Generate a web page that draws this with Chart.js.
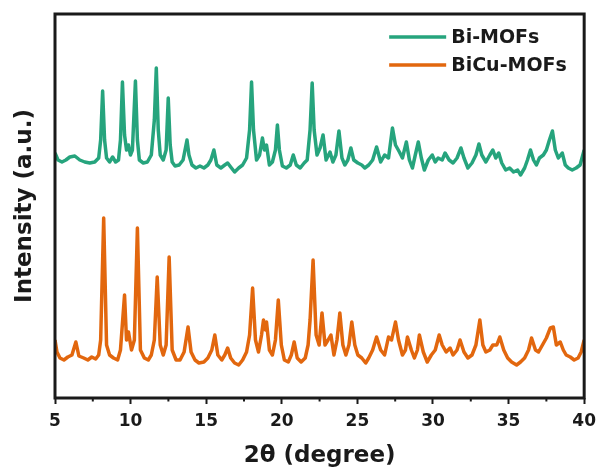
<!DOCTYPE html>
<html>
<head>
<meta charset="utf-8">
<script src="https://cdn.jsdelivr.net/npm/chart.js@4.4.1/dist/chart.umd.min.js"></script>
<style>
  html, body { margin: 0; padding: 0; background: #fff; }
  #wrap { width: 603px; height: 474px; }
</style>
</head>
<body>
<div id="wrap"><canvas id="xrdChart"></canvas></div>
<script>
// XRD patterns, 2θ in degrees, intensity in arbitrary units
const biAngles = [5.00, 5.20, 5.46, 5.72, 5.98, 6.31, 6.64, 6.97, 7.30, 7.63, 7.89, 8.02, 8.15, 8.28, 8.41,
  8.61, 8.81, 9.01, 9.20, 9.33, 9.46, 9.60, 9.73, 9.86, 9.99, 10.12, 10.32, 10.45, 10.58, 10.84, 11.11,
  11.37, 11.57, 11.70, 11.83, 11.96, 12.16, 12.35, 12.49, 12.62, 12.75, 12.94, 13.21, 13.47, 13.60, 13.73,
  13.86, 14.06, 14.32, 14.59, 14.85, 15.11, 15.31, 15.51, 15.70, 15.97, 16.23, 16.42, 16.62, 16.88, 17.15,
  17.41, 17.67, 17.87, 18.00, 18.13, 18.33, 18.53, 18.72, 18.85, 18.99, 19.18, 19.38, 19.58, 19.71, 19.84,
  20.04, 20.30, 20.56, 20.76, 20.96, 21.22, 21.48, 21.68, 21.87, 22.01, 22.14, 22.33, 22.53, 22.73, 22.93,
  23.19, 23.38, 23.58, 23.78, 23.98, 24.17, 24.37, 24.57, 24.76, 25.03, 25.29, 25.49, 25.75, 26.01, 26.27,
  26.54, 26.80, 27.06, 27.32, 27.52, 27.78, 27.98, 28.24, 28.44, 28.64, 28.83, 29.03, 29.23, 29.43, 29.69,
  29.95, 30.15, 30.34, 30.61, 30.80, 31.07, 31.33, 31.59, 31.85, 32.05, 32.31, 32.58, 32.84, 33.04, 33.23,
  33.50, 33.76, 33.96, 34.15, 34.35, 34.55, 34.81, 35.07, 35.33, 35.60, 35.79, 36.06, 36.25, 36.45, 36.65,
  36.84, 37.04, 37.30, 37.50, 37.70, 37.90, 38.09, 38.29, 38.55, 38.75, 38.95, 39.21, 39.47, 39.73, 40.00];
const biIntensity = [55, 48, 46, 48, 51, 52, 48, 46, 45, 46, 50, 68, 117, 68, 50,
  46, 51, 46, 48, 68, 126, 73, 58, 63, 53, 58, 127, 68, 48, 45, 46,
  53, 88, 140, 78, 53, 48, 58, 110, 63, 46, 42, 43, 48, 58, 68,
  53, 43, 40, 42, 40, 43, 48, 58, 43, 40, 43, 45, 41, 36, 40,
  43, 50, 78, 126, 78, 48, 53, 70, 58, 63, 43, 46, 58, 83, 58,
  42, 40, 43, 53, 43, 40, 45, 48, 78, 125, 78, 53, 60, 73, 48,
  56, 46, 53, 77, 50, 43, 48, 60, 48, 45, 43, 40, 43, 48, 61,
  46, 53, 50, 80, 63, 56, 50, 66, 48, 40, 53, 66, 50, 38, 48,
  53, 46, 50, 48, 55, 48, 45, 50, 60, 50, 40, 45, 53, 64, 53,
  46, 53, 58, 50, 55, 45, 38, 40, 36, 38, 33, 40, 48, 58, 48,
  43, 50, 53, 58, 68, 77, 58, 50, 55, 43, 40, 38, 40, 43, 58];
const biOffset = 190;

const bicuAngles = [5.00, 5.13, 5.33, 5.59, 5.85, 6.12, 6.38, 6.58, 6.90, 7.17, 7.43, 7.69, 7.89, 8.02, 8.22,
  8.41, 8.61, 8.87, 9.14, 9.33, 9.60, 9.73, 9.86, 10.06, 10.25, 10.45, 10.65, 10.91, 11.17, 11.37, 11.57,
  11.76, 11.96, 12.16, 12.35, 12.55, 12.75, 13.01, 13.27, 13.54, 13.80, 14.00, 14.26, 14.52, 14.85, 15.11,
  15.37, 15.57, 15.77, 16.03, 16.23, 16.42, 16.62, 16.88, 17.15, 17.41, 17.67, 17.87, 18.07, 18.26, 18.46,
  18.66, 18.79, 18.92, 18.99, 19.18, 19.38, 19.58, 19.77, 19.97, 20.17, 20.43, 20.63, 20.82, 21.02, 21.28,
  21.55, 21.74, 21.87, 22.07, 22.27, 22.47, 22.66, 22.86, 23.06, 23.25, 23.45, 23.65, 23.84, 24.04, 24.24,
  24.44, 24.63, 24.83, 25.03, 25.29, 25.55, 25.75, 26.01, 26.27, 26.54, 26.80, 27.06, 27.26, 27.52, 27.72,
  27.98, 28.18, 28.31, 28.57, 28.77, 28.97, 29.10, 29.36, 29.62, 29.89, 30.15, 30.41, 30.61, 30.87, 31.13,
  31.33, 31.59, 31.79, 32.05, 32.31, 32.58, 32.84, 33.10, 33.30, 33.50, 33.76, 33.96, 34.22, 34.42, 34.68,
  34.94, 35.20, 35.53, 35.79, 36.06, 36.32, 36.52, 36.78, 36.98, 37.24, 37.50, 37.76, 37.96, 38.16, 38.42,
  38.62, 38.81, 39.08, 39.34, 39.60, 39.80, 40.00];
const bicuIntensity = [58, 46, 40, 38, 41, 43, 56, 42, 40, 38, 41, 39, 43, 58, 180,
  53, 43, 40, 38, 48, 103, 58, 66, 48, 58, 170, 48, 40, 38, 43, 58,
  121, 53, 43, 53, 141, 48, 38, 38, 46, 71, 46, 38, 35, 36, 40,
  48, 63, 43, 38, 43, 50, 40, 35, 33, 38, 46, 63, 110, 58, 46,
  63, 78, 68, 76, 48, 43, 58, 98, 53, 38, 36, 43, 56, 40, 36,
  40, 53, 78, 138, 63, 53, 85, 53, 58, 63, 43, 58, 85, 53, 43,
  53, 76, 53, 43, 40, 35, 40, 48, 61, 48, 43, 61, 58, 76, 58,
  43, 48, 61, 48, 40, 48, 63, 46, 36, 43, 48, 63, 53, 46, 50,
  43, 48, 58, 46, 40, 43, 53, 78, 53, 46, 48, 53, 53, 61, 48,
  40, 36, 33, 36, 40, 48, 60, 48, 46, 53, 60, 70, 71, 53, 56,
  48, 43, 41, 38, 40, 46, 58];

const xTicks = [5, 10, 15, 20, 25, 30, 35, 40];
const xMinorTicks = [7.5, 12.5, 17.5, 22.5, 27.5, 32.5, 37.5];

const FONT = '"DejaVu Sans", "Liberation Sans", Arial, sans-serif';
const INK = '#1a1a1a';

const toPoints = (angles, values, offset) => angles.map((t, i) => ({ x: t, y: values[i] + offset }));

// box around the plot plus the small in-between ticks on the x axis
const framePlugin = {
  id: 'frame',
  afterDraw(chart) {
    const { ctx, chartArea: a, scales: { x } } = chart;
    ctx.save();
    ctx.strokeStyle = INK;
    ctx.lineWidth = 2;
    xMinorTicks.forEach(v => {
      const px = x.getPixelForValue(v);
      ctx.beginPath();
      ctx.moveTo(px, a.bottom);
      ctx.lineTo(px, a.bottom + 3.5);
      ctx.stroke();
    });
    ctx.lineWidth = 3;
    ctx.strokeRect(a.left, a.top, a.right - a.left, a.bottom - a.top);
    ctx.restore();
  }
};

// legend sitting in the top-right corner of the plot
const cornerLegend = {
  id: 'cornerLegend',
  afterDraw(chart) {
    const { ctx, chartArea: a } = chart;
    ctx.save();
    ctx.font = 'bold 19px ' + FONT;
    ctx.textBaseline = 'middle';
    ctx.textAlign = 'left';
    chart.data.datasets.forEach((ds, i) => {
      const y = a.top + 23 + i * 28;
      ctx.strokeStyle = ds.borderColor;
      ctx.lineWidth = 3.5;
      ctx.beginPath();
      ctx.moveTo(a.right - 195, y);
      ctx.lineTo(a.right - 138, y);
      ctx.stroke();
      ctx.fillStyle = INK;
      ctx.fillText(ds.label, a.right - 133, y + 1);
    });
    ctx.restore();
  }
};

const ctx = document.getElementById('xrdChart').getContext('2d');
new Chart(ctx, {
  type: 'line',
  data: {
    datasets: [
      {
        label: 'Bi-MOFs',
        data: toPoints(biAngles, biIntensity, biOffset),
        borderColor: '#26a47d',
        backgroundColor: '#26a47d'
      },
      {
        label: 'BiCu-MOFs',
        data: toPoints(bicuAngles, bicuIntensity, 0),
        borderColor: '#e2670e',
        backgroundColor: '#e2670e'
      }
    ]
  },
  options: {
    responsive: true,
    maintainAspectRatio: false,
    animation: false,
    layout: { padding: { top: 14, right: 15, left: 0, bottom: 0 } },
    elements: {
      point: { radius: 0 },
      line: { borderWidth: 3.5, tension: 0, borderJoinStyle: 'round' }
    },
    plugins: {
      legend: { display: false },
      tooltip: { enabled: false }
    },
    scales: {
      x: {
        type: 'linear',
        min: 5,
        max: 40,
        afterBuildTicks: scale => { scale.ticks = xTicks.map(v => ({ value: v })); },
        ticks: {
          color: INK,
          padding: 7,
          maxRotation: 0,
          autoSkip: false,
          font: { family: FONT, size: 17, weight: 'bold' }
        },
        grid: {
          display: true,
          drawOnChartArea: false,
          drawTicks: true,
          tickLength: 6,
          tickWidth: 2,
          tickColor: INK
        },
        border: { display: false },
        title: {
          display: true,
          text: '2θ (degree)',
          color: INK,
          font: { family: FONT, size: 23, weight: 'bold' },
          padding: { top: 0, bottom: 4 }
        },
        afterFit: scale => { scale.height = 76; }
      },
      y: {
        min: 0,
        max: 384,
        ticks: { display: false },
        grid: { display: false },
        border: { display: false },
        title: {
          display: true,
          text: 'Intensity (a.u.)',
          color: INK,
          font: { family: FONT, size: 23, weight: 'bold' },
          padding: { top: 11, bottom: 0 }
        },
        afterFit: scale => { scale.width = 55; }
      }
    }
  },
  plugins: [framePlugin, cornerLegend]
});
</script>
</body>
</html>
